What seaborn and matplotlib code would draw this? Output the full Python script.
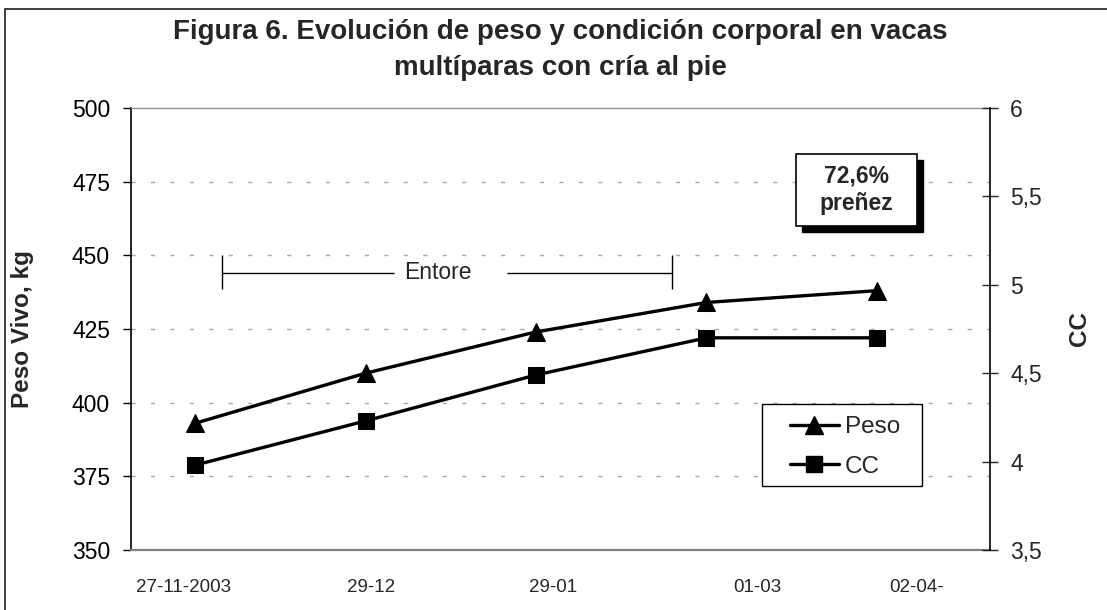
import numpy as np
import pandas as pd
import matplotlib
matplotlib.use('Agg')
import matplotlib.pyplot as plt
from matplotlib import font_manager as fm
from matplotlib.lines import Line2D
from matplotlib.patches import Rectangle
import seaborn as sns

sns.set_style('white')
plt.rcParams['font.family'] = ['Liberation Sans', 'DejaVu Sans']

# datos (dias desde el 27-11-2003, aprox.)
dias = [0, 30, 60, 90, 120]
peso = [393, 410, 424, 434, 438]
cc = [3.98, 4.23, 4.49, 4.70, 4.70]

# posiciones de las etiquetas del eje x (dias) y sus textos
x_ticks = [-2, 31, 63, 99, 127]
x_labels = ['27-11-2003', '29-12', '29-01', '01-03', '02-04-']

peso_ticks = [350, 375, 400, 425, 450, 475, 500]
cc_ticks = [3.5, 4, 4.5, 5, 5.5, 6]
cc_labels = ['3,5', '4', '4,5', '5', '5,5', '6']

# periodo de entore (dias) y altura en kg
entore_ini, entore_fin, entore_y = 4.75, 83.9, 444
entore_hueco = (35.0, 54.8)

df = pd.DataFrame({'dias': dias, 'Peso': peso, 'CC': cc})


# negrita sin la variante "Narrow"
bold_file = None
for f in fm.fontManager.ttflist:
    if f.name == 'Liberation Sans' and f.weight in (700, 'bold') and f.style == 'normal' \
            and 'narrow' not in f.fname.lower():
        bold_file = f.fname
        break


def negrita(size):
    if bold_file:
        return fm.FontProperties(fname=bold_file, size=size)
    return fm.FontProperties(family='DejaVu Sans', weight='bold', size=size)


fig = plt.figure(figsize=(11.07, 6.10), dpi=100)
ax = fig.add_axes([0.1183, 0.0984, 0.776, 0.7246])
ax2 = ax.twinx()

sns.lineplot(data=df, x='dias', y='Peso', ax=ax, color='black', marker='^',
             markersize=13, linewidth=2.4, markeredgecolor='black')
sns.lineplot(data=df, x='dias', y='CC', ax=ax2, color='black', marker='s',
             markersize=11, linewidth=2.4, markeredgecolor='black')

ax.set_xlim(-11.3, 139.9)
ax.set_ylim(350, 500)
ax2.set_ylim(3.5, 6)

ax.set_yticks(peso_ticks)
ax.set_yticklabels([str(t) for t in peso_ticks], fontsize=16.5)
ax2.set_yticks(cc_ticks)
ax2.set_yticklabels(cc_labels, fontsize=16.5)
ax.set_xticks(x_ticks)
ax.set_xticklabels(x_labels, fontsize=13.5)

ax.tick_params(axis='y', direction='out', length=6, width=1, pad=9, colors='black')
ax.tick_params(axis='x', length=0, pad=21)
ax2.tick_params(axis='y', direction='inout', length=11, width=1, pad=9)

# grilla punteada gris
for t in peso_ticks[1:-1]:
    ax.axhline(t, color='#a8a8a8', lw=1, ls=(0, (3, 11)), zorder=0)

ax.spines['left'].set_color('black')
ax.spines['left'].set_linewidth(1.2)
ax.spines['right'].set_visible(False)
ax.spines['bottom'].set_color('#808080')
ax.spines['bottom'].set_linewidth(1.6)
ax.spines['top'].set_color('#909090')
ax.spines['top'].set_linewidth(1)
for s in ['left', 'top', 'bottom']:
    ax2.spines[s].set_visible(False)
ax2.spines['right'].set_color('black')
ax2.spines['right'].set_linewidth(1.2)

ax.set_xlabel('')
ax.set_ylabel('Peso Vivo, kg', fontproperties=negrita(17.5))
ax.yaxis.set_label_coords(-0.1129, 0.5)
ax2.set_ylabel('CC', fontproperties=negrita(17.5))
ax2.yaxis.set_label_coords(1.0908, 0.5)

fig.text(560.5 / 1107, 1 - 19 / 610,
         'Figura 6. Evolución de peso y condición corporal en vacas\nmultíparas con cría al pie',
         ha='center', va='top', fontproperties=negrita(20), linespacing=1.48)

# entore
ax.hlines(entore_y, entore_ini, entore_hueco[0], color='black', lw=1)
ax.hlines(entore_y, entore_hueco[1], entore_fin, color='black', lw=1)
ax.vlines([entore_ini, entore_fin], entore_y - 5.5, entore_y + 6, color='black', lw=1)
ax.text(42.8, entore_y, 'Entore', ha='center', va='center', fontsize=16.5)

# recuadro preñez con sombra
ax2.add_patch(Rectangle((0.7808, 0.7194), 0.1416, 0.1629, transform=ax2.transAxes,
                        facecolor='black', edgecolor='black', zorder=5, clip_on=False))
ax2.add_patch(Rectangle((0.7738, 0.7330), 0.1416, 0.1629, transform=ax2.transAxes,
                        facecolor='white', edgecolor='black', lw=1.2, zorder=6, clip_on=False))
ax2.text(0.8446, 0.8145, '72,6%\npreñez', transform=ax2.transAxes, ha='center', va='center',
         fontproperties=negrita(16.5), linespacing=1.25, zorder=7)

# leyenda
ax2.add_patch(Rectangle((0.7346, 0.1448), 0.1862, 0.1852, transform=ax2.transAxes,
                        facecolor='white', edgecolor='black', lw=1, zorder=8))
handles = [Line2D([], [], color='black', lw=2.4, marker='^', markersize=13),
           Line2D([], [], color='black', lw=2.4, marker='s', markersize=11)]
leg = ax2.legend(handles, ['Peso', 'CC'], loc='upper left', bbox_to_anchor=(0.7672, 0.303),
                 frameon=False, fontsize=17.5, handlelength=2.0, handletextpad=0.25,
                 labelspacing=0.72, borderpad=0, borderaxespad=0)
leg.set_zorder(9)

# borde exterior
fig.patches.append(Rectangle((5 / 1107, -0.05), 1.1, 1 - 9 / 610 + 0.05, transform=fig.transFigure,
                             facecolor='none', edgecolor='#202020', lw=1.2))

fig.savefig('out.png', dpi=100)
